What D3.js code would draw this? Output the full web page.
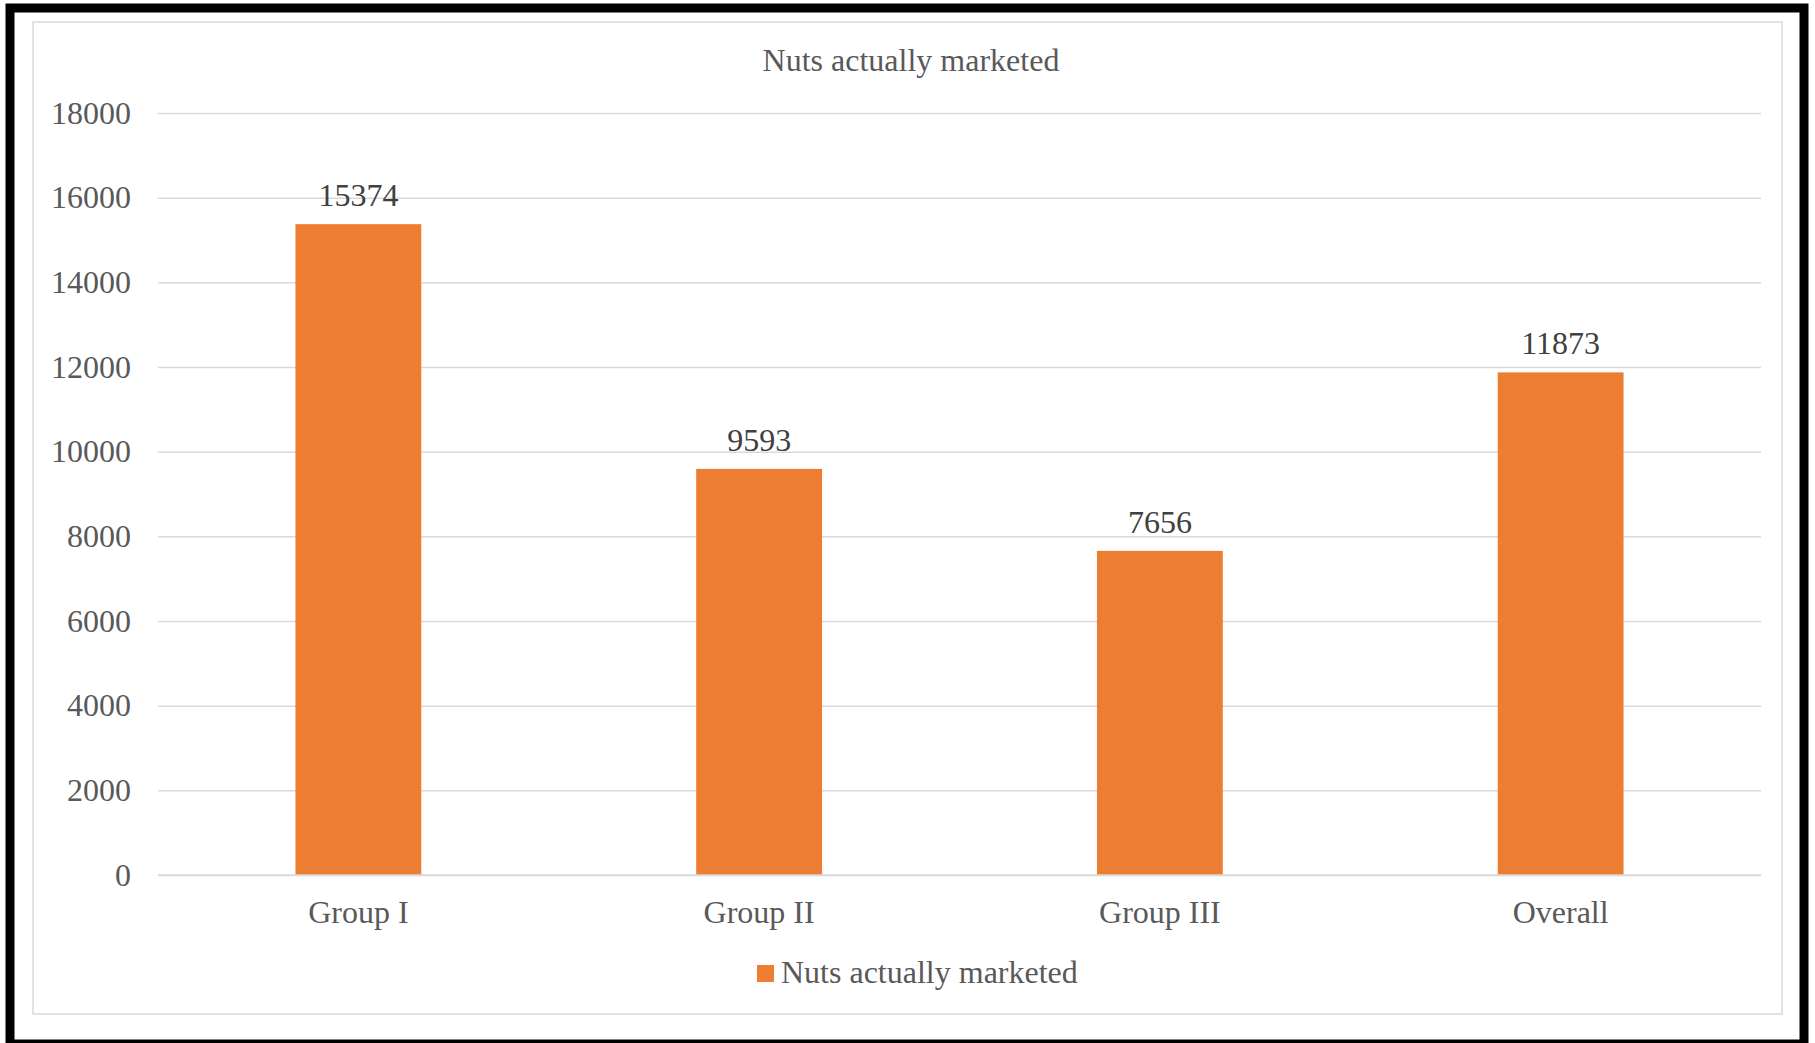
<!DOCTYPE html>
<html>
<head>
<meta charset="utf-8">
<script src="https://cdn.jsdelivr.net/npm/d3@7"></script>
<style>
  html, body { margin: 0; padding: 0; background: #fff; }
  svg { display: block; }
  text { font-family: "Liberation Serif", "Times New Roman", serif; }
</style>
</head>
<body>
<svg id="chart"></svg>
<script>
const width = 1815;
const height = 1043;

const categories = ["Group I", "Group II", "Group III", "Overall"];
const values = [15374, 9593, 7656, 11873];
const yTicks = [0, 2000, 4000, 6000, 8000, 10000, 12000, 14000, 16000, 18000];
const seriesName = "Nuts actually marketed";

const plot = {left: 158, right: 1761, top: 113, bottom: 875};
const barColor = "#ED7D31";
const fontSize = "32px";

const svg = d3.select("#chart")
    .attr("width", width)
    .attr("height", height);

// outer black frame and inner chart area border
svg.append("rect")
    .attr("x", 10).attr("y", 8)
    .attr("width", 1794).attr("height", 1036)
    .attr("fill", "#fff")
    .attr("stroke", "#000")
    .attr("stroke-width", 9);
svg.append("rect")
    .attr("x", 33).attr("y", 22)
    .attr("width", 1749).attr("height", 992)
    .attr("fill", "none")
    .attr("stroke", "#d9d9d9")
    .attr("stroke-width", 1.5);

const xScale = d3.scaleBand()
    .domain(categories)
    .range([plot.left, plot.right])
    .paddingInner(0.686)
    .paddingOuter(0.343);

const yScale = d3.scaleLinear()
    .domain([0, 18000])
    .range([plot.bottom, plot.top]);

// gridlines + y labels
const yAxis = d3.axisLeft(yScale)
    .tickValues(yTicks)
    .tickSize(-(plot.right - plot.left))
    .tickPadding(27)
    .tickFormat(d3.format("d"));

const yG = svg.append("g")
    .attr("transform", "translate(" + plot.left + ",0)")
    .call(yAxis);
yG.select(".domain").remove();
yG.selectAll(".tick line")
    .attr("stroke", "#d9d9d9")
    .attr("stroke-width", 1.5);
yG.selectAll(".tick text")
    .attr("fill", "#595959")
    .style("font-size", fontSize)
    .style("font-family", "'Liberation Serif', serif");

// bars
svg.append("g")
    .selectAll("rect")
    .data(values)
    .enter()
    .append("rect")
        .attr("x", (d, i) => xScale(categories[i]))
        .attr("y", d => yScale(d))
        .attr("width", xScale.bandwidth())
        .attr("height", d => yScale(0) - yScale(d))
        .attr("fill", barColor);

// data labels
svg.append("g")
    .selectAll("text")
    .data(values)
    .enter()
    .append("text")
        .attr("x", (d, i) => xScale(categories[i]) + xScale.bandwidth() / 2)
        .attr("y", d => yScale(d) - 18)
        .attr("text-anchor", "middle")
        .attr("fill", "#404040")
        .style("font-size", fontSize)
        .text(d => d);

// x axis
const xAxis = d3.axisBottom(xScale)
    .tickSize(0)
    .tickPadding(0);
const xG = svg.append("g")
    .attr("transform", "translate(0," + plot.bottom + ")")
    .call(xAxis);
xG.select(".domain")
    .attr("stroke", "#d9d9d9")
    .attr("stroke-width", 1.5)
    .attr("d", "M" + plot.left + ",0H" + plot.right);
xG.selectAll(".tick text")
    .attr("y", 48)
    .attr("dy", null)
    .attr("fill", "#595959")
    .style("font-size", fontSize)
    .style("font-family", "'Liberation Serif', serif");

// title
svg.append("text")
    .attr("x", 911)
    .attr("y", 71)
    .attr("text-anchor", "middle")
    .attr("fill", "#595959")
    .style("font-size", fontSize)
    .text(seriesName);

// legend
const legend = svg.append("g");
legend.append("rect")
    .attr("x", 757).attr("y", 965)
    .attr("width", 17).attr("height", 17)
    .attr("fill", barColor);
legend.append("text")
    .attr("x", 781)
    .attr("y", 983)
    .attr("fill", "#595959")
    .style("font-size", fontSize)
    .text(seriesName);
</script>
</body>
</html>
